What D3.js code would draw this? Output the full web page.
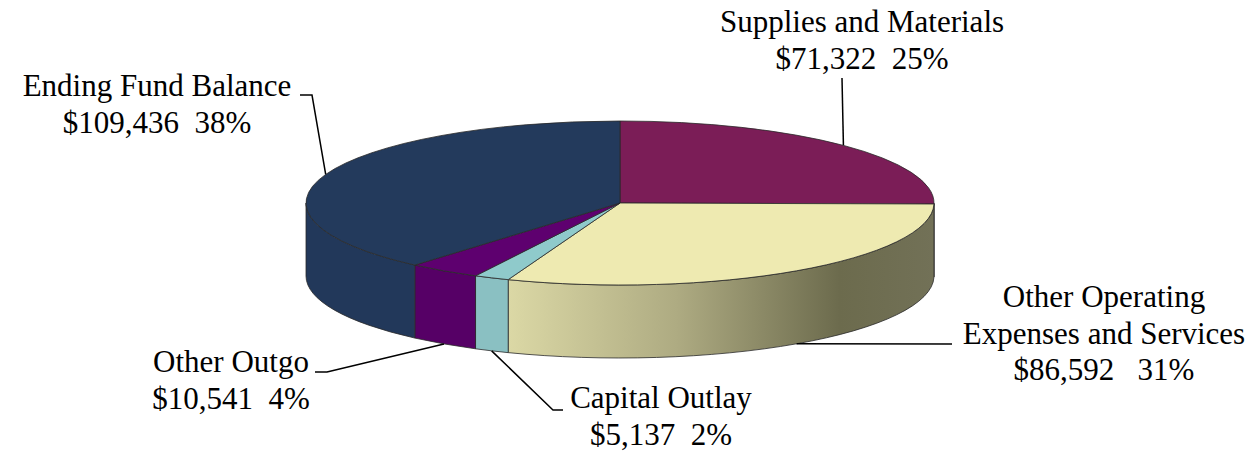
<!DOCTYPE html>
<html>
<head>
<meta charset="utf-8">
<script src="https://cdn.jsdelivr.net/npm/d3@7"></script>
<style>
  body { margin: 0; background: #fff; }
  svg text { font-family: "Liberation Serif", "Times New Roman", serif; font-size: 31px; fill: #000; white-space: pre; }
</style>
</head>
<body>
<div id="chart"></div>
<script>
// data, clockwise from 12 o'clock
const categories = ['Supplies and Materials', 'Other Operating\nExpenses and Services', 'Capital Outlay', 'Other Outgo', 'Ending Fund Balance'];
const amounts = [71322, 86592, 5137, 10541, 109436];
const percentLabels = ['25%', '31%', '2%', '4%', '38%'];
const valueGaps = ['  ', '   ', '  ', '  ', '  '];

const topColors = ['#7b1d57', '#eeeab1', '#8fcacb', '#5e006f', '#233a5c'];
const sideColors = ['#6a184b', 'url(#yellowSide)', '#8ac0c2', '#560066', '#22385a'];

// label layout: text centre x, first baseline, leader elbow points (from pie outward)
const labelLayout = [
  { x: 862, y: 32, leader: [[842, 78]] },
  { x: 1104, y: 307, leader: [[952, 344]] },
  { x: 661, y: 408, leader: [[553, 410], [563, 410]] },
  { x: 231, y: 372, leader: [[327, 372], [315, 372]] },
  { x: 157, y: 96, leader: [[312, 95], [300, 95]] }
];

const width = 1253, height = 453;
const cx = 620, cy = 203, rx = 314, ry = 82, depth = 73;
const lineGap = 36.5;

const svg = d3.select('#chart').append('svg')
  .attr('width', width)
  .attr('height', height);

const grad = svg.append('defs').append('linearGradient')
  .attr('id', 'yellowSide')
  .attr('gradientUnits', 'userSpaceOnUse')
  .attr('x1', 505).attr('x2', cx + rx)
  .attr('y1', 0).attr('y2', 0);
grad.selectAll('stop')
  .data([[0, '#dcd9a6'], [0.4, '#aeab82'], [0.78, '#6c6b4d'], [1, '#727157']])
  .enter().append('stop')
  .attr('offset', d => d[0])
  .attr('stop-color', d => d[1]);

const pie = d3.pie().sort(null).value(d => d)
  .startAngle(0).endAngle(2 * Math.PI);
const arcs = pie(amounts);

const pt = (a, dy = 0) => [cx + rx * Math.sin(a), cy - ry * Math.cos(a) + dy];
const fmt = d3.format('$,');

// side walls (front half only)
const sides = svg.append('g');
arcs.forEach((d, i) => {
  const s = Math.max(d.startAngle, Math.PI / 2);
  const e = Math.min(d.endAngle, 3 * Math.PI / 2);
  if (e - s < 0.001) return;
  const p0 = pt(s), p1 = pt(e), p2 = pt(e, depth), p3 = pt(s, depth);
  sides.append('path')
    .attr('d', `M${p0}A${rx},${ry} 0 0 1 ${p1}L${p2}A${rx},${ry} 0 0 0 ${p3}Z`)
    .attr('fill', sideColors[i])
    .attr('stroke', '#2a2a2a')
    .attr('stroke-width', 0.8)
    .attr('stroke-linejoin', 'round');
});

// top faces
const tops = svg.append('g');
arcs.forEach((d, i) => {
  const p0 = pt(d.startAngle), p1 = pt(d.endAngle);
  const large = d.endAngle - d.startAngle > Math.PI ? 1 : 0;
  tops.append('path')
    .attr('d', `M${cx},${cy}L${p0}A${rx},${ry} 0 ${large} 1 ${p1}Z`)
    .attr('fill', topColors[i])
    .attr('stroke', '#2a2a2a')
    .attr('stroke-width', 0.8)
    .attr('stroke-linejoin', 'round');
});

// leaders and labels
const labels = svg.append('g');
arcs.forEach((d, i) => {
  const mid = (d.startAngle + d.endAngle) / 2;
  const front = Math.cos(mid) < 0;
  const anchor = pt(mid, front ? depth : 0);
  const pts = [anchor].concat(labelLayout[i].leader);
  labels.append('path')
    .attr('d', d3.line()(pts))
    .attr('fill', 'none')
    .attr('stroke', '#000')
    .attr('stroke-width', 1.5);

  const lines = categories[i].split('\n').concat([fmt(amounts[i]) + valueGaps[i] + percentLabels[i]]);
  const t = labels.append('text')
    .attr('text-anchor', 'middle');
  lines.forEach((l, j) => {
    t.append('tspan')
      .attr('x', labelLayout[i].x)
      .attr('y', labelLayout[i].y + j * lineGap)
      .text(l);
  });
});
</script>
</body>
</html>
